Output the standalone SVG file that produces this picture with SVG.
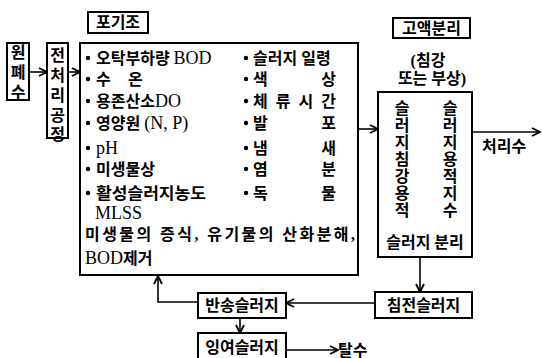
<svg xmlns="http://www.w3.org/2000/svg" width="542" height="358" viewBox="0 0 542 358">
<defs>
<marker id="ah" viewBox="0 0 10 10" refX="9" refY="5" markerWidth="10" markerHeight="10" markerUnits="userSpaceOnUse" orient="auto">
<path d="M1,1 L9,5 L1,9" fill="none" stroke="#000" stroke-width="1.8"/>
</marker>
<style>
.box{fill:#fff;stroke:#000;stroke-width:2}
.ln{fill:none;stroke:#000;stroke-width:1.6}
text{font-family:"Liberation Serif","Noto Sans CJK KR",serif;font-size:16px;font-weight:600;fill:#000}
.lat{font-size:18px;font-weight:normal}
.c{text-anchor:middle}
.e{text-anchor:end}
.v{font-size:16px;text-anchor:middle}
</style>
</defs>
<rect width="542" height="358" fill="#fff"/>
<g id="connectors">
<line class="ln" x1="29" y1="72" x2="47" y2="72" marker-end="url(#ah)"/>
<line class="ln" x1="68" y1="72" x2="80" y2="72" marker-end="url(#ah)"/>
<line class="ln" x1="358" y1="129" x2="378" y2="129" marker-end="url(#ah)"/>
<line class="ln" x1="472" y1="132" x2="540" y2="132" marker-end="url(#ah)"/>
<line class="ln" x1="420" y1="257" x2="420" y2="292" marker-end="url(#ah)"/>
<line class="ln" x1="375" y1="303" x2="286" y2="303" marker-end="url(#ah)"/>
<polyline class="ln" points="198,302 158,302 158,276" marker-end="url(#ah)"/>
<line class="ln" x1="240" y1="318" x2="240" y2="333" marker-end="url(#ah)"/>
<line class="ln" x1="286" y1="350" x2="338" y2="350" marker-end="url(#ah)"/>
</g>
<g id="wastewater">
<rect class="box" x="7" y="43" width="22" height="57"/>
<text class="v" x="18" y="58">원</text>
<text class="v" x="18" y="78">폐</text>
<text class="v" x="18" y="98">수</text>
</g>
<g id="pretreatment">
<rect class="box" x="47" y="43" width="21" height="95"/>
<text class="v" x="57.5" y="61">전</text>
<text class="v" x="57.5" y="81">처</text>
<text class="v" x="57.5" y="101">리</text>
<text class="v" x="57.5" y="121">공</text>
<text class="v" x="57.5" y="140">정</text>
</g>
<g id="aeration-label">
<rect class="box" x="88" y="12" width="60" height="21"/>
<text class="c" x="118" y="28">포기조</text>
</g>
<g id="aeration-tank">
<rect class="box" x="80" y="43" width="278" height="232" stroke-width="1.8"/>
<g fill="#000">
<circle cx="88" cy="58" r="2.2"/><circle cx="88" cy="79" r="2.2"/><circle cx="88" cy="101" r="2.2"/>
<circle cx="88" cy="123" r="2.2"/><circle cx="88" cy="148" r="2.2"/><circle cx="88" cy="169" r="2.2"/>
<circle cx="88" cy="193" r="2.2"/>
<circle cx="246" cy="58" r="2.2"/><circle cx="246" cy="79" r="2.2"/><circle cx="246" cy="101" r="2.2"/>
<circle cx="246" cy="123" r="2.2"/><circle cx="246" cy="148" r="2.2"/><circle cx="246" cy="169" r="2.2"/>
<circle cx="246" cy="193" r="2.2"/>
</g>
<text x="96" y="64">오탁부하량 <tspan class="lat">BOD</tspan></text>
<text x="96" y="85">수</text><text x="128" y="85">온</text>
<text x="96" y="107">용존산소<tspan class="lat">DO</tspan></text>
<text x="96" y="129">영양원 <tspan class="lat">(N, P)</tspan></text>
<text x="96" y="154"><tspan class="lat">pH</tspan></text>
<text x="96" y="175">미생물상</text>
<text x="96" y="199" textLength="110" lengthAdjust="spacingAndGlyphs">활성슬러지농도</text>
<text x="95" y="219"><tspan class="lat">MLSS</tspan></text>
<text x="85" y="240" textLength="270" lengthAdjust="spacing">미생물의 증식, 유기물의 산화분해,</text>
<text x="85" y="264"><tspan class="lat">BOD</tspan>제거</text>
<text x="253" y="64">슬러지 일령</text>
<text x="253" y="85">색</text><text class="e" x="336" y="85">상</text>
<text x="253" y="107" textLength="83" lengthAdjust="spacing">체 류 시 간</text>
<text x="253" y="129">발</text><text class="e" x="336" y="129">포</text>
<text x="253" y="154">냄</text><text class="e" x="336" y="154">새</text>
<text x="253" y="175">염</text><text class="e" x="336" y="175">분</text>
<text x="253" y="199">독</text><text class="e" x="336" y="199">물</text>
</g>
<g id="separation-label">
<rect class="box" x="393" y="18" width="77" height="20"/>
<text class="c" x="431.5" y="34">고액분리</text>
<text class="c" x="428" y="66">(침강</text>
<text class="c" x="432" y="84">또는 부상)</text>
</g>
<g id="separator">
<rect class="box" x="378" y="92" width="94" height="165"/>
<text class="v" x="402" y="114">슬</text><text class="v" x="402" y="131">러</text>
<text class="v" x="402" y="148">지</text><text class="v" x="402" y="165">침</text>
<text class="v" x="402" y="182">강</text><text class="v" x="402" y="199">용</text>
<text class="v" x="402" y="216">적</text>
<text class="v" x="450" y="114">슬</text><text class="v" x="450" y="131">러</text>
<text class="v" x="450" y="148">지</text><text class="v" x="450" y="165">용</text>
<text class="v" x="450" y="182">적</text><text class="v" x="450" y="199">지</text>
<text class="v" x="450" y="216">수</text>
<text class="c" x="425" y="248">슬러지 분리</text>
</g>
<g id="treated-water">
<text x="482" y="152">처리수</text>
</g>
<g id="settled-sludge">
<rect class="box" x="375" y="292" width="97" height="26"/>
<text class="c" x="423.5" y="311">침전슬러지</text>
</g>
<g id="return-sludge">
<rect class="box" x="198" y="293" width="88" height="25"/>
<text class="c" x="242" y="311">반송슬러지</text>
</g>
<g id="excess-sludge">
<rect class="box" x="198" y="333" width="88" height="30"/>
<text class="c" x="242" y="353">잉여슬러지</text>
</g>
<g id="dewatering">
<text x="338" y="356">탈수</text>
</g>
</svg>
